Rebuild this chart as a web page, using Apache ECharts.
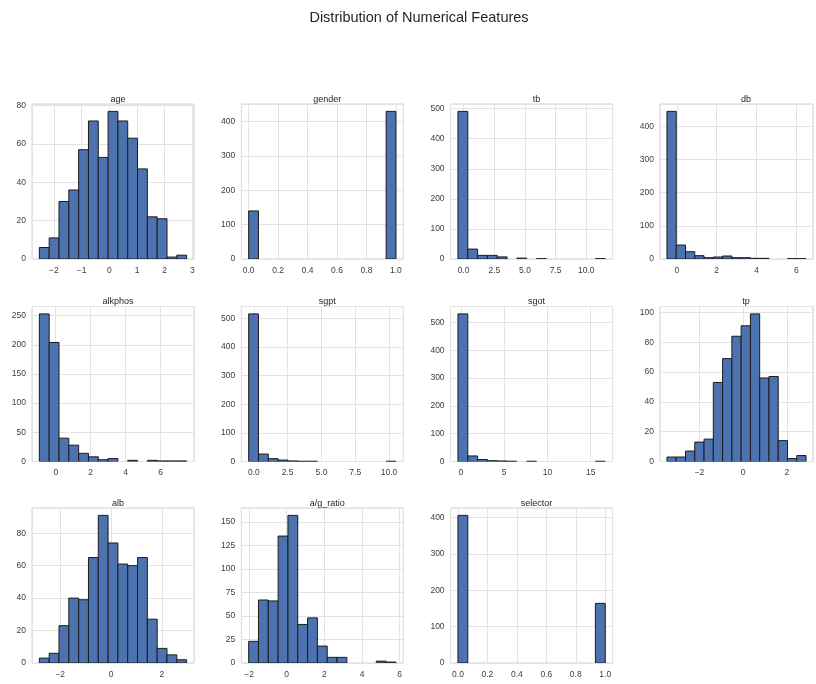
<!DOCTYPE html>
<html>
<head>
<meta charset="utf-8">
<title>Distribution of Numerical Features</title>
<script src="https://cdn.jsdelivr.net/npm/echarts@6/dist/echarts.min.js"></script>
<style>
  html, body { margin: 0; padding: 0; background: #ffffff; }
  #chart { width: 816px; height: 684px; }
</style>
</head>
<body>
<div id="chart"></div>
<script>
// Feature names, in panel order (4 columns, 3 rows)
const features = ['age', 'gender', 'tb', 'db', 'alkphos', 'sgpt', 'sgot', 'tp', 'alb', 'a/g_ratio', 'selector'];

// Lowest and highest bin edge of each feature (standardized units)
const binLo = [-2.52, 0, -0.467, -0.495, -0.937, -0.387, -0.346, -3.49, -2.82, -2.02, 0];
const binHi = [2.79, 1, 11.55, 6.48, 7.49, 10.51, 16.68, 2.88, 2.97, 5.80, 1];

// Counts per bin (15 equal-width bins per feature)
const ageCounts      = [6, 11, 30, 36, 57, 72, 53, 77, 72, 63, 47, 22, 21, 1, 2];
const genderCounts   = [140, 0, 0, 0, 0, 0, 0, 0, 0, 0, 0, 0, 0, 0, 430];
const tbCounts       = [491, 33, 12, 12, 7, 0, 3, 0, 1, 0, 0, 0, 0, 0, 1];
const dbCounts       = [445, 42, 22, 10, 4, 6, 9, 4, 4, 2, 2, 0, 0, 1, 1];
const alkphosCounts  = [253, 204, 40, 28, 14, 8, 3, 5, 0, 2, 0, 2, 1, 1, 1];
const sgptCounts     = [515, 26, 10, 5, 2, 1, 1, 0, 0, 0, 0, 0, 0, 0, 1];
const sgotCounts     = [531, 20, 7, 3, 2, 1, 0, 1, 0, 0, 0, 0, 0, 0, 1];
const tpCounts       = [3, 3, 7, 13, 15, 53, 69, 84, 91, 99, 56, 57, 14, 2, 4];
const albCounts      = [3, 6, 23, 40, 39, 65, 91, 74, 61, 60, 65, 27, 9, 5, 2];
const agRatioCounts  = [23, 67, 66, 135, 157, 41, 48, 18, 6, 6, 0, 0, 0, 2, 1];
const selectorCounts = [406, 0, 0, 0, 0, 0, 0, 0, 0, 0, 0, 0, 0, 0, 164];

const allCounts = [ageCounts, genderCounts, tbCounts, dbCounts, alkphosCounts, sgptCounts,
                   sgotCounts, tpCounts, albCounts, agRatioCounts, selectorCounts];

// Tick steps and label decimals for each panel
const xTickStep     = [1, 0.2, 2.5, 2, 2, 2.5, 5, 2, 2, 2, 0.2];
const xTickDecimals = [0, 1, 1, 0, 0, 1, 0, 0, 0, 0, 1];
const yTickStep     = [20, 100, 100, 100, 50, 100, 100, 20, 20, 25, 100];

// Panel geometry
const colLeft = [32, 241.3, 450.6, 660];
const rowTop = [104, 306.5, 508];
const panelW = 162, panelH = 155;

const textColor = '#3d3d3d';
const fontFamily = '"Liberation Sans", Arial, sans-serif';

function fmtTick(step, decimals) {
  return function (v) {
    const k = v / step;
    if (Math.abs(k - Math.round(k)) > 1e-6) return '';
    const s = (Math.round(k) * step).toFixed(decimals);
    return s.charAt(0) === '-' ? '\u2212' + s.slice(1) : s;
  };
}

const grids = [], xAxes = [], yAxes = [], series = [], titles = [];

titles.push({
  text: 'Distribution of Numerical Features',
  left: 414, top: 5, textAlign: 'center',
  textStyle: { fontSize: 14.5, fontWeight: 'normal', color: '#262626', fontFamily: fontFamily }
});

features.forEach(function (name, i) {
  const col = i % 4, row = Math.floor(i / 4);
  const left = colLeft[col], top = rowTop[row];
  grids.push({
    left: left, top: top, width: panelW, height: panelH,
    show: true, borderColor: '#d4d4d4', borderWidth: 1, backgroundColor: '#ffffff'
  });

  const lo = binLo[i], hi = binHi[i];
  const pad = 0.05 * (hi - lo);
  const counts = allCounts[i];
  const cmax = Math.max.apply(null, counts);

  xAxes.push({
    type: 'value', gridIndex: i,
    min: lo - pad, max: hi + pad,
    minInterval: xTickStep[i], maxInterval: xTickStep[i],
    axisLine: { show: false }, axisTick: { show: false },
    splitLine: { show: true, lineStyle: { color: '#e3e3e3', width: 1 } },
    axisLabel: {
      fontSize: 8.5, color: textColor, fontFamily: fontFamily, margin: 7,
      formatter: fmtTick(xTickStep[i], xTickDecimals[i])
    }
  });
  yAxes.push({
    type: 'value', gridIndex: i,
    min: 0, max: cmax * 1.05,
    minInterval: yTickStep[i], maxInterval: yTickStep[i],
    axisLine: { show: false }, axisTick: { show: false },
    splitLine: { show: true, lineStyle: { color: '#e3e3e3', width: 1 } },
    axisLabel: {
      fontSize: 8.5, color: textColor, fontFamily: fontFamily, margin: 6,
      formatter: fmtTick(yTickStep[i], 0)
    }
  });

  const w = (hi - lo) / counts.length;
  const data = counts.map(function (c, k) { return [lo + k * w, lo + (k + 1) * w, c]; });

  series.push({
    type: 'custom', xAxisIndex: i, yAxisIndex: i,
    data: data,
    encode: { x: [0, 1], y: 2 },
    clip: true,
    renderItem: function (params, api) {
      const c = api.value(2);
      if (c <= 0) return null;
      const p0 = api.coord([api.value(0), c]);
      const p1 = api.coord([api.value(1), 0]);
      return {
        type: 'rect',
        shape: { x: p0[0], y: p0[1], width: p1[0] - p0[0], height: p1[1] - p0[1] },
        style: { fill: '#4c72b0', stroke: '#1c1c1c', lineWidth: 1 }
      };
    }
  });

  titles.push({
    text: name,
    left: left + panelW / 2, top: top - 14, textAlign: 'center',
    textStyle: { fontSize: 9, fontWeight: 'normal', color: '#262626', fontFamily: fontFamily }
  });
});

const chart = echarts.init(document.getElementById('chart'), null, { renderer: 'canvas' });
chart.setOption({
  backgroundColor: '#ffffff',
  animation: false,
  title: titles,
  grid: grids,
  xAxis: xAxes,
  yAxis: yAxes,
  series: series
});
</script>
</body>
</html>
